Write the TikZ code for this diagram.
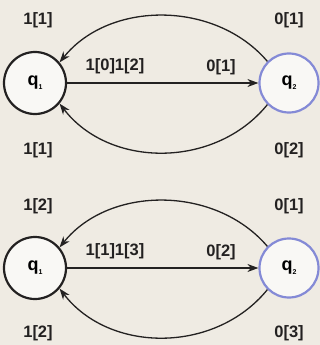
\documentclass[tikz,border=0pt]{standalone}
\usepackage{fontspec}
\setmainfont{Liberation Sans}
\usetikzlibrary{arrows.meta}
\definecolor{paper}{RGB}{239,235,227}
\definecolor{inner}{RGB}{249,248,245}
\definecolor{ringblue}{RGB}{132,138,214}
\definecolor{ink}{RGB}{35,33,33}
\begin{document}
\begin{tikzpicture}[x=1pt,y=-1pt,
  state/.style={circle,draw=ink,line width=2.2pt,fill=inner,minimum size=62pt,inner sep=0pt,
    font=\fontsize{18}{20}\selectfont\bfseries},
  bluestate/.style={state,draw=ringblue,minimum size=59pt},
  lab/.style={text=ink,font=\fontsize{16.5}{20}\selectfont\bfseries,inner sep=0pt},
  conn/.style={draw=ink,line width=1.3pt,-{Stealth[length=11pt,width=8pt]}}
]
\fill[paper] (0,0) rectangle (320,345);
\useasboundingbox (0,0) rectangle (320,345);
% ---------- top diagram ----------
\begin{scope}
  \node[state] (a1) at (35,83) {q\raisebox{-4pt}{\fontsize{7}{8}\selectfont 1}};
  \node[bluestate] (b1) at (289,83) {q\raisebox{-4pt}{\fontsize{7}{8}\selectfont 2}};
  \draw[conn] (a1) -- (b1);
  \draw[conn] (b1.135) .. controls +(-52,-61) and +(50,-62) .. (a1.40);
  \draw[conn] (b1.225) .. controls +(-52,64) and +(50,65) .. (a1.-40);
  \node[lab] (t1) at (38,20) {1[1]};
  \node[lab] (t2) at (289,20) {0[1]};
  \node[lab] (t3) at (115,66) {1[0]1[2]};
  \node[lab] (t4) at (221,67) {0[1]};
  \node[lab] (t5) at (38,150) {1[1]};
  \node[lab] (t6) at (289,150) {0[2]};
\end{scope}
% ---------- bottom diagram ----------
\begin{scope}[shift={(0,185)}]
  \node[state] (a2) at (35,83) {q\raisebox{-4pt}{\fontsize{7}{8}\selectfont 1}};
  \node[bluestate] (b2) at (289,83) {q\raisebox{-4pt}{\fontsize{7}{8}\selectfont 2}};
  \draw[conn] (a2) -- (b2);
  \draw[conn] (b2.135) .. controls +(-52,-61) and +(50,-62) .. (a2.40);
  \draw[conn] (b2.225) .. controls +(-52,64) and +(50,65) .. (a2.-40);
  \node[lab] (u1) at (38,21) {1[2]};
  \node[lab] (u2) at (289,21) {0[1]};
  \node[lab] (u3) at (115,66) {1[1]1[3]};
  \node[lab] (u4) at (221,67) {0[2]};
  \node[lab] (u5) at (38,148) {1[2]};
  \node[lab] (u6) at (289,148) {0[3]};
\end{scope}
\end{tikzpicture}
\end{document}
